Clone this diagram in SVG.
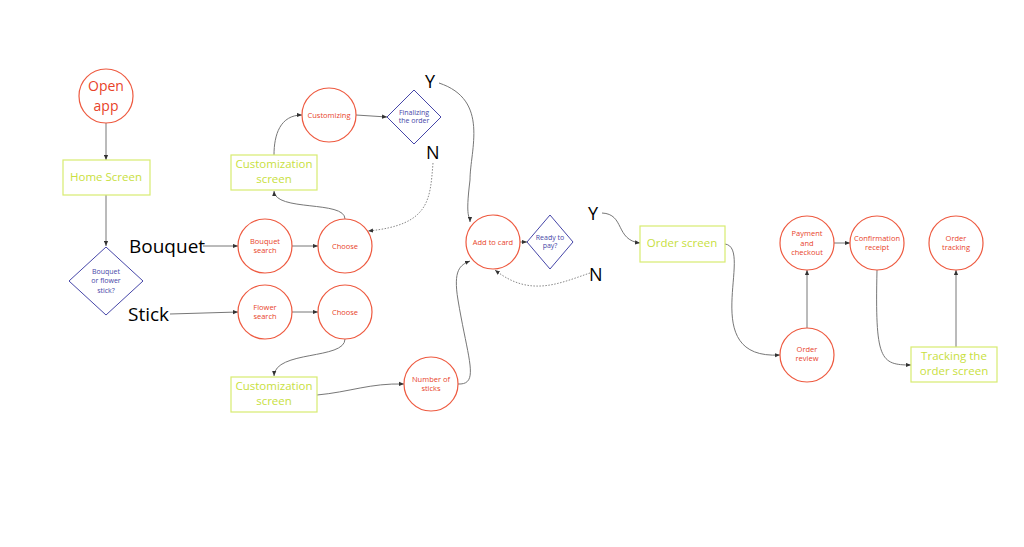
<svg xmlns="http://www.w3.org/2000/svg" width="1024" height="547" viewBox="0 0 1024 547">
<style>
.c{fill:#fff;stroke:#ee5a40;stroke-width:1.2}
.r{fill:#fff;stroke:#d8eb70;stroke-width:1.2}
.d{fill:#fff;stroke:#4646a8;stroke-width:1}
.ct{font-family:"Open Sans",sans-serif;font-size:7.5px;fill:#e8432a;text-anchor:middle}
.rt{font-family:"Open Sans",sans-serif;font-size:11.5px;fill:#c8e040;text-anchor:middle}
.dt{font-family:"Open Sans",sans-serif;font-size:7px;fill:#4646a8;text-anchor:middle}
.lb{font-family:"Open Sans",sans-serif;fill:#000}
.e{fill:none;stroke:#777;stroke-width:1;marker-end:url(#a)}
.dot{fill:none;stroke:#888;stroke-width:1;stroke-dasharray:1.5 1.5;marker-end:url(#a)}
</style>
<defs><marker id="a" viewBox="0 0 6 6" refX="6" refY="3" markerWidth="5" markerHeight="5" orient="auto"><path d="M0,0.5 L6,3 L0,5.5z" fill="#333"/></marker></defs>
<rect width="1024" height="547" fill="#fff"/>
<g id="connectors">
<path class="e" d="M106,123 V160"/>
<path class="e" d="M106,195 V246"/>
<path class="e" d="M203,246 H238"/>
<path class="e" d="M292,246 H318"/>
<path class="e" d="M170,314 L238,312"/>
<path class="e" d="M292,312 H318"/>
<path class="e" d="M345,219 C345,200 275,212 274,191"/>
<path class="e" d="M274,155 C274,135 280,115 302,115"/>
<path class="e" d="M356,115 L387,117"/>
<path class="dot" d="M433,163 C430,200 430,225 368,231"/>
<path class="e" d="M438,83 C530,110 465,160 468,200 C470,230 480,226 480,222" style="display:none"/>
<path class="e" d="M439,83 C490,100 470,150 470,180 C465,220 470,215 470,222"/>
<path class="e" d="M345,339 C345,360 275,350 274,376"/>
<path class="e" d="M317,395 C350,392 370,383 404,384"/>
<path class="e" d="M458,384 C480,385 468,360 458,300 C453,270 460,265 470,261"/>
<path class="e" d="M520,242 H527"/>
<path class="dot" d="M590,273 C560,283 530,298 495,270"/>
<path class="e" d="M602,213 C625,214 615,240 640,243"/>
<path class="e" d="M725,244 C755,248 695,360 780,355"/>
<path class="e" d="M807,328 V270"/>
<path class="e" d="M834,243 H850"/>
<path class="e" d="M877,270 C875,360 880,365 911,365"/>
<path class="e" d="M956,347 V270"/>
</g>
<g id="open"><circle class="c" cx="106" cy="96" r="27"/><text class="ct" style="font-size:14px" x="106" y="91">Open</text><text class="ct" style="font-size:14px" x="106" y="111">app</text></g>
<g id="home"><rect class="r" x="63" y="160" width="87" height="35"/><text class="rt" x="106" y="181">Home Screen</text></g>
<g id="q1"><path class="d" d="M106,247 L143,281 L106,315 L69,281Z"/><text class="dt" x="106" y="274">Bouquet</text><text class="dt" x="106" y="283">or flower</text><text class="dt" x="106" y="293">stick?</text></g>
<text class="lb" x="129" y="253" font-size="19">Bouquet</text>
<text class="lb" x="128" y="321" font-size="19">Stick</text>
<g id="bs"><circle class="c" cx="265" cy="246" r="27"/><text class="ct" x="265" y="244">Bouquet</text><text class="ct" x="265" y="253">search</text></g>
<g id="ch1"><circle class="c" cx="345" cy="246" r="27"/><text class="ct" x="345" y="249">Choose</text></g>
<g id="fs"><circle class="c" cx="265" cy="312" r="27"/><text class="ct" x="265" y="310">Flower</text><text class="ct" x="265" y="319">search</text></g>
<g id="ch2"><circle class="c" cx="345" cy="312" r="27"/><text class="ct" x="345" y="315">Choose</text></g>
<g id="cs1"><rect class="r" x="231" y="155" width="86" height="35"/><text class="rt" x="274" y="168">Customization</text><text class="rt" x="274" y="183">screen</text></g>
<g id="cust"><circle class="c" cx="329" cy="115" r="27"/><text class="ct" x="329" y="118">Customizing</text></g>
<g id="fin"><path class="d" d="M414,90 L441,117 L414,144 L387,117Z"/><text class="dt" x="414" y="115">Finalizing</text><text class="dt" x="414" y="123">the order</text></g>
<text class="lb" x="425" y="88" font-size="18">Y</text>
<text class="lb" x="426" y="159" font-size="18">N</text>
<g id="cs2"><rect class="r" x="231" y="377" width="86" height="35"/><text class="rt" x="274" y="390">Customization</text><text class="rt" x="274" y="405">screen</text></g>
<g id="ns"><circle class="c" cx="431" cy="384" r="27"/><text class="ct" x="431" y="382">Number of</text><text class="ct" x="431" y="391">sticks</text></g>
<g id="add"><circle class="c" cx="493" cy="242" r="27"/><text class="ct" x="493" y="245">Add to card</text></g>
<g id="rp"><path class="d" d="M550,215 L573,242 L550,269 L527,242Z"/><text class="dt" x="550" y="240">Ready to</text><text class="dt" x="550" y="248">pay?</text></g>
<text class="lb" x="588" y="220" font-size="18">Y</text>
<text class="lb" x="589" y="281" font-size="18">N</text>
<g id="os"><rect class="r" x="640" y="226" width="85" height="36"/><text class="rt" x="682" y="247">Order screen</text></g>
<g id="pay"><circle class="c" cx="807" cy="243" r="27"/><text class="ct" x="807" y="236">Payment</text><text class="ct" x="807" y="246">and</text><text class="ct" x="807" y="255">checkout</text></g>
<g id="rev"><circle class="c" cx="807" cy="355" r="27"/><text class="ct" x="807" y="352">Order</text><text class="ct" x="807" y="361">review</text></g>
<g id="conf"><circle class="c" cx="877" cy="243" r="27"/><text class="ct" x="877" y="241">Confirmation</text><text class="ct" x="877" y="250">receipt</text></g>
<g id="ot"><circle class="c" cx="956" cy="243" r="27"/><text class="ct" x="956" y="241">Order</text><text class="ct" x="956" y="250">tracking</text></g>
<g id="ts"><rect class="r" x="911" y="347" width="86" height="35"/><text class="rt" x="954" y="360">Tracking the</text><text class="rt" x="954" y="375">order screen</text></g>
</svg>
